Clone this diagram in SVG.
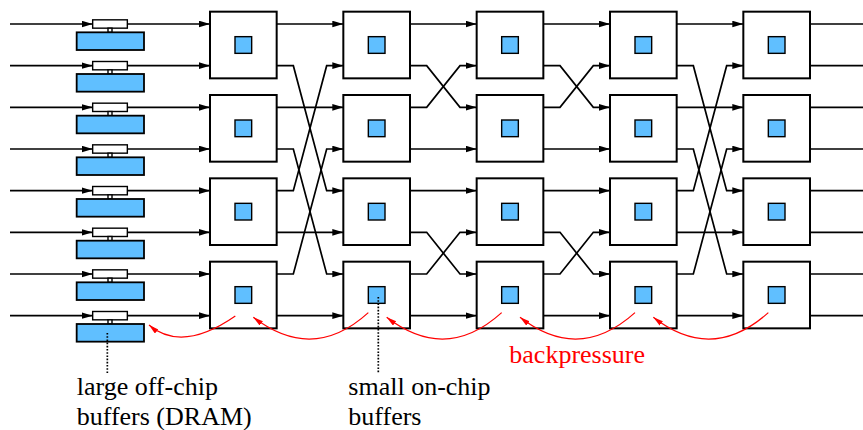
<svg xmlns="http://www.w3.org/2000/svg" width="863" height="430" viewBox="0 0 863 430">
<style>
.box{fill:#fff;stroke:#000;stroke-width:2}
.core{fill:#60bfff;stroke:#000;stroke-width:1.4}
.wbuf{fill:#fff;stroke:#000;stroke-width:1.4}
.bbuf{fill:#60bfff;stroke:#000;stroke-width:1.8}
.ln{fill:none;stroke:#000;stroke-width:1.7;marker-end:url(#ah)}
.out{fill:none;stroke:#000;stroke-width:1.7}
.bp{fill:none;stroke:#f00;stroke-width:1.2;marker-end:url(#rh)}
.dot{stroke:#000;stroke-width:1.7;stroke-dasharray:1.6,1.6}
text{font-family:Liberation Serif,DejaVu Serif,serif;font-size:26px}
</style>
<defs>
<marker id="ah" markerUnits="userSpaceOnUse" markerWidth="12" markerHeight="8" refX="11" refY="3.3" orient="auto">
<path d="M0,0 L11,3.3 L0,6.6 z" fill="#000"/>
</marker>
<marker id="rh" markerUnits="userSpaceOnUse" markerWidth="12" markerHeight="8" refX="10" refY="2.7" orient="auto">
<path d="M0,0 L10,2.7 L0,5.4 z" fill="#f00"/>
</marker>
</defs>

<g id="connectors">
<path class="ln" d="M10,24 H92.67"/>
<path class="ln" d="M10,65.67 H92.67"/>
<path class="ln" d="M10,107.33 H92.67"/>
<path class="ln" d="M10,149 H92.67"/>
<path class="ln" d="M10,190.67 H92.67"/>
<path class="ln" d="M10,232.33 H92.67"/>
<path class="ln" d="M10,274 H92.67"/>
<path class="ln" d="M10,315.67 H92.67"/>
<path class="ln" d="M127.33,24 H210"/>
<path class="ln" d="M127.33,65.67 H210"/>
<path class="ln" d="M127.33,107.33 H210"/>
<path class="ln" d="M127.33,149 H210"/>
<path class="ln" d="M127.33,190.67 H210"/>
<path class="ln" d="M127.33,232.33 H210"/>
<path class="ln" d="M127.33,274 H210"/>
<path class="ln" d="M127.33,315.67 H210"/>
<path class="ln" d="M276.67,24 H343.33"/>
<path class="ln" d="M276.67,107.33 H343.33"/>
<path class="ln" d="M276.67,232.33 H343.33"/>
<path class="ln" d="M276.67,315.67 H343.33"/>
<path class="ln" d="M276.67,65.67 H293.33 L326.67,190.67 H343.33"/>
<path class="ln" d="M276.67,190.67 H293.33 L326.67,65.67 H343.33"/>
<path class="ln" d="M276.67,149 H293.33 L326.67,274 H343.33"/>
<path class="ln" d="M276.67,274 H293.33 L326.67,149 H343.33"/>
<path class="ln" d="M410,24 H476.67"/>
<path class="ln" d="M410,149 H476.67"/>
<path class="ln" d="M410,190.67 H476.67"/>
<path class="ln" d="M410,315.67 H476.67"/>
<path class="ln" d="M410,65.67 H426.67 L460,107.33 H476.67"/>
<path class="ln" d="M410,107.33 H426.67 L460,65.67 H476.67"/>
<path class="ln" d="M410,232.33 H426.67 L460,274 H476.67"/>
<path class="ln" d="M410,274 H426.67 L460,232.33 H476.67"/>
<path class="ln" d="M543.33,24 H610"/>
<path class="ln" d="M543.33,149 H610"/>
<path class="ln" d="M543.33,190.67 H610"/>
<path class="ln" d="M543.33,315.67 H610"/>
<path class="ln" d="M543.33,65.67 H560 L593.33,107.33 H610"/>
<path class="ln" d="M543.33,107.33 H560 L593.33,65.67 H610"/>
<path class="ln" d="M543.33,232.33 H560 L593.33,274 H610"/>
<path class="ln" d="M543.33,274 H560 L593.33,232.33 H610"/>
<path class="ln" d="M676.67,24 H743.33"/>
<path class="ln" d="M676.67,107.33 H743.33"/>
<path class="ln" d="M676.67,232.33 H743.33"/>
<path class="ln" d="M676.67,315.67 H743.33"/>
<path class="ln" d="M676.67,65.67 H693.33 L726.67,190.67 H743.33"/>
<path class="ln" d="M676.67,190.67 H693.33 L726.67,65.67 H743.33"/>
<path class="ln" d="M676.67,149 H693.33 L726.67,274 H743.33"/>
<path class="ln" d="M676.67,274 H693.33 L726.67,149 H743.33"/>
<path class="out" d="M810,24 H863 M810,65.67 H863 M810,107.33 H863 M810,149 H863 M810,190.67 H863 M810,232.33 H863 M810,274 H863 M810,315.67 H863"/>
</g>

<g id="buffers">
<g id="buf0"><rect class="wbuf" x="92.67" y="19.83" width="34.67" height="8.33"/><rect class="wbuf" x="108" y="28.17" width="4" height="4.17"/><rect class="bbuf" x="76.67" y="32.33" width="67.33" height="17.67"/></g>
<g id="buf1"><rect class="wbuf" x="92.67" y="61.5" width="34.67" height="8.33"/><rect class="wbuf" x="108" y="69.83" width="4" height="4.17"/><rect class="bbuf" x="76.67" y="74" width="67.33" height="17.67"/></g>
<g id="buf2"><rect class="wbuf" x="92.67" y="103.17" width="34.67" height="8.33"/><rect class="wbuf" x="108" y="111.5" width="4" height="4.17"/><rect class="bbuf" x="76.67" y="115.67" width="67.33" height="17.67"/></g>
<g id="buf3"><rect class="wbuf" x="92.67" y="144.83" width="34.67" height="8.33"/><rect class="wbuf" x="108" y="153.17" width="4" height="4.17"/><rect class="bbuf" x="76.67" y="157.33" width="67.33" height="17.67"/></g>
<g id="buf4"><rect class="wbuf" x="92.67" y="186.5" width="34.67" height="8.33"/><rect class="wbuf" x="108" y="194.83" width="4" height="4.17"/><rect class="bbuf" x="76.67" y="199" width="67.33" height="17.67"/></g>
<g id="buf5"><rect class="wbuf" x="92.67" y="228.17" width="34.67" height="8.33"/><rect class="wbuf" x="108" y="236.5" width="4" height="4.17"/><rect class="bbuf" x="76.67" y="240.67" width="67.33" height="17.67"/></g>
<g id="buf6"><rect class="wbuf" x="92.67" y="269.83" width="34.67" height="8.33"/><rect class="wbuf" x="108" y="278.17" width="4" height="4.17"/><rect class="bbuf" x="76.67" y="282.33" width="67.33" height="17.67"/></g>
<g id="buf7"><rect class="wbuf" x="92.67" y="311.5" width="34.67" height="8.33"/><rect class="wbuf" x="108" y="319.83" width="4" height="4.17"/><rect class="bbuf" x="76.67" y="324" width="67.33" height="17.67"/></g>
</g>

<g id="switches">
<g id="s00"><rect class="box" x="210" y="11.67" width="66.67" height="66.67"/><rect class="core" x="235" y="36.67" width="16.67" height="16.67"/></g>
<g id="s01"><rect class="box" x="210" y="95" width="66.67" height="66.67"/><rect class="core" x="235" y="120" width="16.67" height="16.67"/></g>
<g id="s02"><rect class="box" x="210" y="178.33" width="66.67" height="66.67"/><rect class="core" x="235" y="203.33" width="16.67" height="16.67"/></g>
<g id="s03"><rect class="box" x="210" y="261.67" width="66.67" height="66.67"/><rect class="core" x="235" y="286.67" width="16.67" height="16.67"/></g>
<g id="s10"><rect class="box" x="343.33" y="11.67" width="66.67" height="66.67"/><rect class="core" x="368.33" y="36.67" width="16.67" height="16.67"/></g>
<g id="s11"><rect class="box" x="343.33" y="95" width="66.67" height="66.67"/><rect class="core" x="368.33" y="120" width="16.67" height="16.67"/></g>
<g id="s12"><rect class="box" x="343.33" y="178.33" width="66.67" height="66.67"/><rect class="core" x="368.33" y="203.33" width="16.67" height="16.67"/></g>
<g id="s13"><rect class="box" x="343.33" y="261.67" width="66.67" height="66.67"/><rect class="core" x="368.33" y="286.67" width="16.67" height="16.67"/></g>
<g id="s20"><rect class="box" x="476.67" y="11.67" width="66.67" height="66.67"/><rect class="core" x="501.67" y="36.67" width="16.67" height="16.67"/></g>
<g id="s21"><rect class="box" x="476.67" y="95" width="66.67" height="66.67"/><rect class="core" x="501.67" y="120" width="16.67" height="16.67"/></g>
<g id="s22"><rect class="box" x="476.67" y="178.33" width="66.67" height="66.67"/><rect class="core" x="501.67" y="203.33" width="16.67" height="16.67"/></g>
<g id="s23"><rect class="box" x="476.67" y="261.67" width="66.67" height="66.67"/><rect class="core" x="501.67" y="286.67" width="16.67" height="16.67"/></g>
<g id="s30"><rect class="box" x="610" y="11.67" width="66.67" height="66.67"/><rect class="core" x="635" y="36.67" width="16.67" height="16.67"/></g>
<g id="s31"><rect class="box" x="610" y="95" width="66.67" height="66.67"/><rect class="core" x="635" y="120" width="16.67" height="16.67"/></g>
<g id="s32"><rect class="box" x="610" y="178.33" width="66.67" height="66.67"/><rect class="core" x="635" y="203.33" width="16.67" height="16.67"/></g>
<g id="s33"><rect class="box" x="610" y="261.67" width="66.67" height="66.67"/><rect class="core" x="635" y="286.67" width="16.67" height="16.67"/></g>
<g id="s40"><rect class="box" x="743.33" y="11.67" width="66.67" height="66.67"/><rect class="core" x="768.33" y="36.67" width="16.67" height="16.67"/></g>
<g id="s41"><rect class="box" x="743.33" y="95" width="66.67" height="66.67"/><rect class="core" x="768.33" y="120" width="16.67" height="16.67"/></g>
<g id="s42"><rect class="box" x="743.33" y="178.33" width="66.67" height="66.67"/><rect class="core" x="768.33" y="203.33" width="16.67" height="16.67"/></g>
<g id="s43"><rect class="box" x="743.33" y="261.67" width="66.67" height="66.67"/><rect class="core" x="768.33" y="286.67" width="16.67" height="16.67"/></g>
</g>

<g id="backpressure">
<path class="bp" d="M235.33,316 Q182,353 149,325"/>
<path class="bp" d="M368.33,312.67 Q313,363 253.33,317.33"/>
<path class="bp" d="M501.67,312.67 Q446,363 386.67,317.33"/>
<path class="bp" d="M635,312.67 Q579,363 520,317.33"/>
<path class="bp" d="M768.33,312.67 Q712,363 653.33,317.33"/>
<line class="dot" x1="107.33" y1="333" x2="107.33" y2="373"/>
<line class="dot" x1="378.3" y1="297" x2="378.3" y2="373"/>
</g>

<g id="labels">
<text x="76.7" y="395" fill="#000">large off-chip</text>
<text x="76.7" y="425" fill="#000">buffers (DRAM)</text>
<text x="348.3" y="395" fill="#000">small on-chip</text>
<text x="348.3" y="425" fill="#000">buffers</text>
<text x="509.3" y="362.7" fill="#f00">backpressure</text>
</g>
</svg>
